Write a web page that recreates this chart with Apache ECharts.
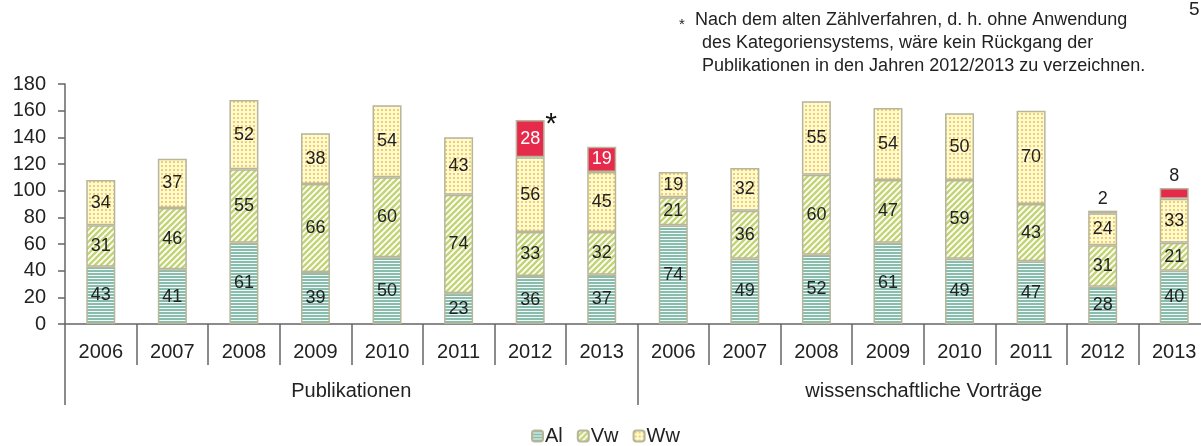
<!DOCTYPE html>
<html>
<head>
<meta charset="utf-8">
<script src="https://cdn.jsdelivr.net/npm/echarts@6/dist/echarts.min.js"></script>
<style>
    html, body { margin: 0; padding: 0; background: #fff; overflow: hidden; }
    #chart { width: 1210px; height: 446px; }
</style>
</head>
<body>
<div id="chart"></div>
<script>
/*global echarts*/
const years = ['2006', '2007', '2008', '2009', '2010', '2011', '2012', '2013',
    '2006', '2007', '2008', '2009', '2010', '2011', '2012', '2013'];
const groups = ['Publikationen', 'wissenschaftliche Vorträge'];
const alVals = [43, 41, 61, 39, 50, 23, 36, 37, 74, 49, 52, 61, 49, 47, 28, 40];
const vwVals = [31, 46, 55, 66, 60, 74, 33, 32, 21, 36, 60, 47, 59, 43, 31, 21];
const wwVals = [34, 37, 52, 38, 54, 43, 56, 45, 19, 32, 55, 54, 50, 70, 24, 33];
const extraVals = ['-', '-', '-', '-', '-', '-', 28, 19, '-', '-', '-', '-', '-', '-', 2, 8];
const yTicks = { min: 0, max: 180, interval: 20 };
const noteLines = [
    'Nach dem alten Zählverfahren, d. h. ohne Anwendung',
    'des Kategoriensystems, wäre kein Rückgang der',
    'Publikationen in den Jahren 2012/2013 zu verzeichnen.'
];

const FONT = '"Liberation Sans", Arial, sans-serif';
const BORDER = '#b7b59a';
const AXIS = '#666';
const TEXT = '#222';

const makePattern = (kind) => {
    const cv = document.createElement('canvas');
    const ctx = cv.getContext('2d');
    if (kind === 'al') {
        cv.width = 4; cv.height = 3;
        ctx.fillStyle = '#f4faf8';
        ctx.fillRect(0, 0, 4, 3);
        ctx.fillStyle = '#88bcac';
        ctx.fillRect(0, 0, 4, 2);
    } else if (kind === 'vw') {
        cv.width = 6; cv.height = 6;
        ctx.fillStyle = '#ffffff';
        ctx.fillRect(0, 0, 6, 6);
        ctx.strokeStyle = '#c2d473';
        ctx.lineWidth = 2.4;
        [-6, 0, 6].forEach(o => {
            ctx.beginPath();
            ctx.moveTo(o - 1, 7);
            ctx.lineTo(o + 7, -1);
            ctx.stroke();
        });
    } else {
        cv.width = 4; cv.height = 4;
        ctx.fillStyle = '#fff9dc';
        ctx.fillRect(0, 0, 4, 4);
        ctx.fillStyle = '#f5d24a';
        ctx.fillRect(1, 1, 2, 2);
    }
    return { image: cv, repeat: 'repeat' };
};

const labelOpt = {
    show: true,
    position: 'inside',
    color: TEXT,
    fontSize: 18,
    fontFamily: FONT
};

const baseSeries = (name, data, color) => ({
    name: name,
    type: 'bar',
    stack: 'total',
    barWidth: 29,
    data: data,
    itemStyle: { color: color, borderColor: BORDER, borderWidth: 1.5 },
    label: labelOpt,
    emphasis: { disabled: true },
    animation: false
});

const extraData = extraVals.map(v => {
    if (v === '-') {
        return v;
    }
    if (v < 10) {
        return { value: v, label: { position: 'top', color: TEXT, distance: 3 } };
    }
    return { value: v };
});

const extraSeries = {
    ...baseSeries('Extra', extraData, '#e62a4b'),
    label: { ...labelOpt, color: '#ffffff' },
    markPoint: {
        symbol: 'circle',
        symbolSize: 0,
        silent: true,
        label: {
            show: true,
            formatter: '*',
            fontSize: 30,
            color: '#111',
            fontFamily: FONT,
            offset: [21, 5]
        },
        data: [{ coord: [6, 153] }]
    }
};

const option = {
    backgroundColor: '#fff',
    textStyle: { fontFamily: FONT },
    grid: { left: 65, right: 0, top: 84, bottom: 122, containLabel: false },
    legend: {
        data: ['Al', 'Vw', 'Ww'],
        top: 426,
        left: 531,
        padding: 0,
        itemWidth: 11,
        itemHeight: 11,
        itemGap: 14,
        textStyle: { fontSize: 20, lineHeight: 20, color: TEXT, fontFamily: FONT, padding: [0, 0, 0, -3] }
    },
    xAxis: [{
        type: 'category',
        data: years,
        position: 'bottom',
        axisLine: { show: true, lineStyle: { color: AXIS, width: 1.5 } },
        axisTick: { show: true, length: 41, interval: 0, lineStyle: { color: AXIS, width: 1.5 } },
        axisLabel: { interval: 0, margin: 18, fontSize: 20, color: TEXT, fontFamily: FONT }
    }, {
        type: 'category',
        data: groups,
        position: 'bottom',
        axisLine: { show: false },
        axisTick: { show: true, length: 81, interval: 0, lineStyle: { color: AXIS, width: 1.5 } },
        axisLabel: { interval: 0, margin: 57, fontSize: 20, color: TEXT, fontFamily: FONT }
    }],
    yAxis: {
        type: 'value',
        min: yTicks.min,
        max: yTicks.max,
        interval: yTicks.interval,
        axisLine: { show: true, lineStyle: { color: AXIS, width: 1.5 } },
        axisTick: { show: true, length: 7, lineStyle: { color: AXIS, width: 1.5 } },
        axisLabel: { margin: 19, fontSize: 20, color: TEXT, fontFamily: FONT },
        splitLine: { show: false }
    },
    graphic: [
        { type: 'text', left: 679, top: 17, style: { text: '*', fontSize: 15, fill: TEXT, fontFamily: FONT } },
        ...noteLines.map((t, i) => ({
            type: 'text',
            left: i === 0 ? 695 : 702,
            top: 11 + i * 23,
            style: { text: t, fontSize: 18, fill: TEXT, fontFamily: FONT }
        })),
        { type: 'text', left: 1189, top: 0, style: { text: '5', fontSize: 19, fill: TEXT, fontFamily: FONT } }
    ],
    series: [
        baseSeries('Al', alVals, makePattern('al')),
        baseSeries('Vw', vwVals, makePattern('vw')),
        baseSeries('Ww', wwVals, makePattern('ww')),
        extraSeries
    ]
};

const myChart = echarts.init(document.getElementById('chart'), null, { renderer: 'canvas' });
myChart.setOption(option);
</script>
</body>
</html>
